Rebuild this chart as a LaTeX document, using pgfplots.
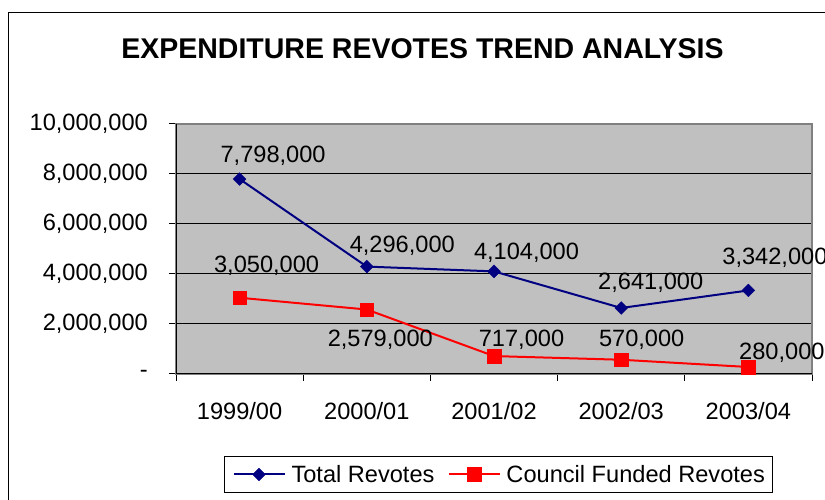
\documentclass[border=0pt]{standalone}
\usepackage{fontspec}
\setmainfont{Liberation Sans}
\usepackage{pgfplots}
\pgfplotsset{compat=1.18}
\definecolor{navyS}{HTML}{000080}
\definecolor{redS}{HTML}{FF0000}
\definecolor{plotgray}{HTML}{C0C0C0}
\definecolor{bordergray}{HTML}{808080}
\newcommand{\lf}{\fontsize{23.6}{27}\selectfont}
\begin{document}
\begin{tikzpicture}[x=1pt,y=1pt]
\useasboundingbox (0,0) rectangle (825,500);
\fill[white] (0,0) rectangle (825,500);
\draw[black, line width=1.3pt] (8.5,-5) -- (8.5,487.5) -- (835,487.5);
\node[anchor=base, font=\fontsize{28.5}{32}\selectfont\bfseries, inner sep=0pt] at (422.5,441) {EXPENDITURE REVOTES TREND ANALYSIS};
\begin{axis}[
  at={(176pt,126pt)}, anchor=south west,
  scale only axis, width=636pt, height=250pt,
  clip=false,
  xmin=-0.5, xmax=4.5, ymin=0, ymax=10000000,
  axis background/.style={fill=plotgray},
  axis line style={bordergray, line width=1.5pt},
  xtick={-0.5,0.5,1.5,2.5,3.5,4.5}, xticklabels={},
  extra x ticks={0,1,2,3,4},
  extra x tick labels={1999/00,2000/01,2001/02,2002/03,2003/04},
  extra x tick style={major tick length=0pt, xticklabel style={yshift=-28pt}},
  ytick={0,2000000,4000000,6000000,8000000,10000000},
  yticklabels={{-\hspace{24pt}},{2,000,000},{4,000,000},{6,000,000},{8,000,000},{10,000,000}},
  scaled y ticks=false, scaled x ticks=false,
  ymajorgrids, grid style={black, line width=1pt},
  tick align=outside, tick pos=left, major tick length=7pt,
  tick style={black, line width=1pt},
  tick label style={font=\lf, inner sep=0pt},
  yticklabel style={xshift=-21pt},
  /pgf/number format/assume math mode=true,
  legend columns=-1,
  legend style={at={(axis description cs:0.0755,-0.3268)}, anchor=north west,
    draw=black, line width=1pt, fill=white, font=\lf,
    inner xsep=8pt, inner ysep=9pt, nodes={inner sep=0pt},
    /tikz/every odd column/.style={column sep=6pt},
    /tikz/every even column/.style={column sep=13pt}},
  legend image code/.code={\draw[mark repeat=2,mark phase=2,#1] plot coordinates {(0pt,0pt) (25.5pt,0pt) (51pt,0pt)};},
]
\addplot[navyS, line width=2pt, mark=square*, mark size=4.5pt,
  mark options={rotate=45, solid, fill=navyS, draw=navyS, line width=0.4pt}]
  coordinates {(0,7798000) (1,4296000) (2,4104000) (3,2641000) (4,3342000)};
\addlegendentry{Total Revotes}
\addplot[redS, line width=2pt, mark=square*, mark size=6.8pt,
  mark options={solid, fill=redS, draw=redS, line width=0.4pt}]
  coordinates {(0,3050000) (1,2579000) (2,717000) (3,570000) (4,280000)};
\addlegendentry{Council Funded Revotes}
\draw[black, line width=1pt] (rel axis cs:0,1) -- (rel axis cs:0,0) -- (rel axis cs:1,0);
\node[anchor=base, font=\lf, xshift=33.5pt, yshift=16.4pt] at (axis cs:0,7798000) {7,798,000};
\node[anchor=base, font=\lf, xshift=35.5pt, yshift=14pt] at (axis cs:1,4296000) {4,296,000};
\node[anchor=base, font=\lf, xshift=32.5pt, yshift=11.4pt] at (axis cs:2,4104000) {4,104,000};
\node[anchor=base, font=\lf, xshift=29.5pt, yshift=18pt] at (axis cs:3,2641000) {2,641,000};
\node[anchor=base, font=\lf, xshift=26.5pt, yshift=25.5pt] at (axis cs:4,3342000) {3,342,000};
\node[anchor=base, font=\lf, xshift=27pt, yshift=25pt] at (axis cs:0,3050000) {3,050,000};
\node[anchor=base, font=\lf, xshift=13.5pt, yshift=-37.2pt] at (axis cs:1,2579000) {2,579,000};
\node[anchor=base, font=\lf, xshift=27.5pt, yshift=10pt] at (axis cs:2,717000) {717,000};
\node[anchor=base, font=\lf, xshift=20.5pt, yshift=13pt] at (axis cs:3,570000) {570,000};
\node[anchor=base, font=\lf, xshift=33.5pt, yshift=7.7pt] at (axis cs:4,280000) {280,000};
\end{axis}
\end{tikzpicture}
\end{document}
